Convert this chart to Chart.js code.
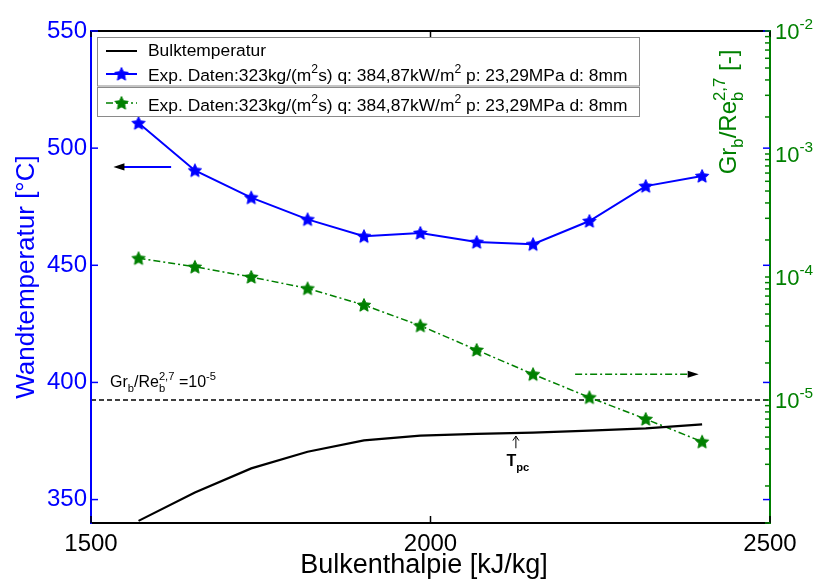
<!DOCTYPE html>
<html>
<head>
<meta charset="utf-8">
<script src="https://cdn.jsdelivr.net/npm/chart.js@4.4.1/dist/chart.umd.min.js"></script>
<style>
html,body{margin:0;padding:0;background:#fff;}
#wrap{width:821px;height:582px;}
</style>
</head>
<body>
<div id="wrap"><canvas id="c" width="821" height="582"></canvas></div>
<script>
// ---- data ----
const enthalpy = [1570, 1653, 1736, 1819, 1902, 1985, 2068, 2151, 2234, 2317, 2400];
const bulkTemp = [340.9, 353.0, 363.3, 370.4, 375.3, 377.3, 378.0, 378.6, 379.4, 380.4, 382.1];
const wallTemp = [510.7, 490.5, 478.9, 469.6, 462.4, 463.8, 459.9, 459.0, 468.9, 483.8, 488.1];
const grRe = [1.42e-4, 1.21e-4, 1.00e-4, 8.07e-5, 5.92e-5, 4.02e-5, 2.55e-5, 1.62e-5, 1.05e-5, 7.0e-6, 4.58e-6];
const refLineX = [1500, 2500];
const refLineY = [1e-5, 1e-5];
const xTicks = [1500, 2000, 2500];
const leftTicks = [350, 400, 450, 500, 550];
const rightDecades = [-5, -4, -3, -2];
const blueArrowX = [1618, 1533];
const blueArrowY = [492, 492];
const greenArrowX = [2213, 2395];
const greenArrowY = [1.62e-5, 1.62e-5];
const tpcX = 2125;
const tpcY = [371.9, 377.1];
const legendLabel = 'Exp. Daten:323kg/(m²s) q: 384,87kW/m² p: 23,29MPa d: 8mm';

const BLUE = '#0000ff', GREEN = '#008000', BLACK = '#000000';
const FONT = '"Liberation Sans", Arial, Helvetica, sans-serif';

function makeStar(color, r) {
  const s = Math.ceil(2 * r + 2);
  const c = document.createElement('canvas');
  c.width = s; c.height = s;
  const g = c.getContext('2d');
  g.translate(s / 2, s / 2 + 0.5);
  g.beginPath();
  for (let i = 0; i < 10; i++) {
    const a = -Math.PI / 2 + i * Math.PI / 5;
    const rr = (i % 2) ? r * 0.47 : r;
    const px = rr * Math.cos(a), py = rr * Math.sin(a);
    if (i === 0) g.moveTo(px, py); else g.lineTo(px, py);
  }
  g.closePath();
  g.fillStyle = color; g.fill();
  g.lineWidth = 1; g.strokeStyle = color; g.stroke();
  return c;
}
const blueStar = makeStar(BLUE, 7);
const greenStar = makeStar(GREEN, 7);

function xy(xs, ys) { return xs.map((x, i) => ({ x: x, y: ys[i] })); }

// rich text: parts = [[text, mode]], mode: '' | 'sub' | 'sup' | 'ss' (text = [sub, sup])
function richWidth(ctx, parts, size, weight) {
  let w = 0;
  for (const [t, m] of parts) {
    if (m === '') { ctx.font = weight + ' ' + size + 'px ' + FONT; w += ctx.measureText(t).width; }
    else if (m === 'ss') { ctx.font = weight + ' ' + (size * 0.7) + 'px ' + FONT; w += Math.max(ctx.measureText(t[0]).width, ctx.measureText(t[1]).width); }
    else { ctx.font = weight + ' ' + (size * 0.7) + 'px ' + FONT; w += ctx.measureText(t).width; }
  }
  return w;
}
function drawRich(ctx, parts, x, y, size, color, weight) {
  weight = weight || 'normal';
  ctx.fillStyle = color;
  ctx.textBaseline = 'alphabetic';
  ctx.textAlign = 'left';
  let cx = x;
  for (const [t, m] of parts) {
    if (m === '') {
      ctx.font = weight + ' ' + size + 'px ' + FONT;
      ctx.fillText(t, cx, y); cx += ctx.measureText(t).width;
    } else if (m === 'sub') {
      ctx.font = weight + ' ' + (size * 0.7) + 'px ' + FONT;
      ctx.fillText(t, cx, y + size * 0.3); cx += ctx.measureText(t).width;
    } else if (m === 'sup') {
      ctx.font = weight + ' ' + (size * 0.7) + 'px ' + FONT;
      ctx.fillText(t, cx, y - size * 0.45); cx += ctx.measureText(t).width;
    } else if (m === 'ss') {
      ctx.font = weight + ' ' + (size * 0.7) + 'px ' + FONT;
      ctx.fillText(t[0], cx, y + size * 0.3);
      ctx.fillText(t[1], cx, y - size * 0.45);
      cx += Math.max(ctx.measureText(t[0]).width, ctx.measureText(t[1]).width);
    }
  }
  return cx - x;
}

function arrowHead(ctx, x, y, dir, len, half) {
  ctx.beginPath();
  ctx.moveTo(x, y);
  ctx.lineTo(x - dir * len, y - half);
  ctx.lineTo(x - dir * len, y + half);
  ctx.closePath();
  ctx.fillStyle = BLACK; ctx.fill();
}

const decor = {
  id: 'decor',
  afterDatasetsDraw(chart) {
    const ctx = chart.ctx;
    const a = chart.chartArea;
    const sx = chart.scales.x, sy = chart.scales.y, sy2 = chart.scales.y2;
    ctx.save();

    // arrows
    const bx0 = sx.getPixelForValue(blueArrowX[0]), bx1 = sx.getPixelForValue(blueArrowX[1]);
    const by = sy.getPixelForValue(blueArrowY[0]);
    ctx.strokeStyle = BLUE; ctx.lineWidth = 2; ctx.setLineDash([]);
    ctx.beginPath(); ctx.moveTo(bx0, by); ctx.lineTo(bx1 + 9, by); ctx.stroke();
    arrowHead(ctx, bx1, by, -1, 11, 3.6);

    const gx0 = sx.getPixelForValue(greenArrowX[0]), gx1 = sx.getPixelForValue(greenArrowX[1]);
    const gy = sy2.getPixelForValue(greenArrowY[0]);
    ctx.strokeStyle = GREEN; ctx.lineWidth = 1.5; ctx.setLineDash([7, 3, 2, 3]);
    ctx.beginPath(); ctx.moveTo(gx0, gy); ctx.lineTo(gx1 - 9, gy); ctx.stroke();
    ctx.setLineDash([]);
    arrowHead(ctx, gx1, gy, 1, 11, 3.6);

    // Tpc arrow
    const tx = sx.getPixelForValue(tpcX);
    const ty0 = sy.getPixelForValue(tpcY[0]), ty1 = sy.getPixelForValue(tpcY[1]);
    ctx.strokeStyle = BLACK; ctx.lineWidth = 1;
    ctx.beginPath(); ctx.moveTo(tx + 0.5, ty0); ctx.lineTo(tx + 0.5, ty1); ctx.stroke();
    ctx.beginPath(); ctx.moveTo(tx - 2.5, ty1 + 4.5); ctx.lineTo(tx + 0.5, ty1); ctx.lineTo(tx + 3.5, ty1 + 4.5); ctx.stroke();
    drawRich(ctx, [['T', ''], ['pc', 'sub']], tx - 9, ty0 + 18, 16, BLACK, 'bold');

    // annotation
    drawRich(ctx, [['Gr', ''], ['b', 'sub'], ['/Re', ''], [['b', '2,7'], 'ss'], [' =10', ''], ['-5', 'sup']], 110, 387, 16, BLACK);

    // axes box
    ctx.setLineDash([]);
    ctx.lineWidth = 2;
    ctx.strokeStyle = BLACK;
    ctx.beginPath(); ctx.moveTo(a.left, a.top); ctx.lineTo(a.right, a.top); ctx.stroke();
    ctx.beginPath(); ctx.moveTo(a.left, a.bottom); ctx.lineTo(a.right, a.bottom); ctx.stroke();
    ctx.strokeStyle = GREEN;
    ctx.beginPath(); ctx.moveTo(a.right, a.top - 1); ctx.lineTo(a.right, a.bottom + 1); ctx.stroke();
    ctx.strokeStyle = BLUE;
    ctx.beginPath(); ctx.moveTo(a.left, a.top - 1); ctx.lineTo(a.left, a.bottom + 1); ctx.stroke();

    // x ticks
    ctx.strokeStyle = BLACK; ctx.lineWidth = 1.5;
    for (const v of xTicks) {
      const px = sx.getPixelForValue(v);
      ctx.beginPath(); ctx.moveTo(px, a.bottom); ctx.lineTo(px, a.bottom - 7); ctx.stroke();
      ctx.beginPath(); ctx.moveTo(px, a.top); ctx.lineTo(px, a.top + 6); ctx.stroke();
    }
    // left ticks (both sides)
    ctx.strokeStyle = BLUE; ctx.lineWidth = 1.5;
    for (const v of leftTicks) {
      const py = sy.getPixelForValue(v);
      ctx.beginPath(); ctx.moveTo(a.left, py); ctx.lineTo(a.left + 7, py); ctx.stroke();
      ctx.beginPath(); ctx.moveTo(a.right, py); ctx.lineTo(a.right - 7, py); ctx.stroke();
    }
    // right log ticks
    ctx.strokeStyle = GREEN; ctx.lineWidth = 1.5;
    for (let d = -6; d <= -2; d++) {
      for (let k = 1; k <= 9; k++) {
        if (d === -2 && k > 1) break;
        const v = k * Math.pow(10, d);
        const py = sy2.getPixelForValue(v);
        ctx.beginPath(); ctx.moveTo(a.right, py); ctx.lineTo(a.right - 5, py); ctx.stroke();
      }
    }
    // right tick labels
    for (const d of rightDecades) {
      const py = sy2.getPixelForValue(Math.pow(10, d));
      drawRich(ctx, [['10', ''], [String(d), 'sup']], a.right + 5, py + 8, 22, GREEN);
    }

    // titles
    ctx.save();
    ctx.translate(34, (a.top + a.bottom) / 2);
    ctx.rotate(-Math.PI / 2);
    ctx.font = '26px ' + FONT; ctx.fillStyle = BLUE; ctx.textAlign = 'center'; ctx.textBaseline = 'alphabetic';
    ctx.fillText('Wandtemperatur [°C]', 0, 0);
    ctx.restore();

    const rParts = [['Gr', ''], ['b', 'sub'], ['/Re', ''], [['b', '2,7'], 'ss'], [' [-]', '']];
    const rw = richWidth(ctx, rParts, 24, 'normal');
    ctx.save();
    ctx.translate(736, 112);
    ctx.rotate(-Math.PI / 2);
    drawRich(ctx, rParts, -rw / 2, 0, 24, GREEN);
    ctx.restore();

    ctx.font = '27px ' + FONT; ctx.fillStyle = BLACK; ctx.textAlign = 'center'; ctx.textBaseline = 'alphabetic';
    ctx.fillText('Bulkenthalpie [kJ/kg]', 424, 573);

    // legend
    ctx.fillStyle = '#ffffff';
    ctx.fillRect(97, 37, 543, 49);
    ctx.fillRect(97, 87, 543, 30);
    ctx.strokeStyle = '#8a8a8a'; ctx.lineWidth = 1;
    ctx.strokeRect(97.5, 37.5, 542, 48.5);
    ctx.strokeRect(97.5, 87.5, 542, 29);
    const lx0 = 106, lx1 = 137, tx0 = 148;
    ctx.strokeStyle = BLACK; ctx.lineWidth = 2;
    ctx.beginPath(); ctx.moveTo(lx0, 51); ctx.lineTo(lx1, 51); ctx.stroke();
    drawRich(ctx, [['Bulktemperatur', '']], tx0, 56, 17.4, BLACK);
    ctx.strokeStyle = BLUE; ctx.lineWidth = 2;
    ctx.beginPath(); ctx.moveTo(lx0, 74); ctx.lineTo(lx1, 74); ctx.stroke();
    ctx.drawImage(blueStar, (lx0 + lx1) / 2 - blueStar.width / 2, 74 - blueStar.height / 2);
    const lp = [['Exp. Daten:323kg/(m', ''], ['2', 'sup'], ['s) q: 384,87kW/m', ''], ['2', 'sup'], [' p: 23,29MPa d: 8mm', '']];
    drawRich(ctx, lp, tx0, 80.5, 17.4, BLACK);
    ctx.strokeStyle = GREEN; ctx.lineWidth = 1.5; ctx.setLineDash([7, 3, 2, 3]);
    ctx.beginPath(); ctx.moveTo(lx0, 103); ctx.lineTo(lx1, 103); ctx.stroke();
    ctx.setLineDash([]);
    ctx.drawImage(greenStar, (lx0 + lx1) / 2 - greenStar.width / 2, 103 - greenStar.height / 2);
    drawRich(ctx, lp, tx0, 110.5, 17.4, BLACK);

    ctx.restore();
  }
};

new Chart(document.getElementById('c'), {
  type: 'line',
  data: {
    datasets: [
      { label: 'Bulktemperatur', data: xy(enthalpy, bulkTemp), yAxisID: 'y', borderColor: BLACK, borderWidth: 2.2, pointRadius: 0, fill: false, tension: 0 },
      { label: legendLabel, data: xy(enthalpy, wallTemp), yAxisID: 'y', borderColor: BLUE, backgroundColor: BLUE, borderWidth: 2, pointStyle: blueStar, pointRadius: 7, fill: false, tension: 0 },
      { label: legendLabel + ' ', data: xy(enthalpy, grRe), yAxisID: 'y2', borderColor: GREEN, backgroundColor: GREEN, borderWidth: 1.5, borderDash: [7, 3, 2, 3], pointStyle: greenStar, pointRadius: 7, fill: false, tension: 0 },
      { label: 'Gr_b/Re_b^2,7 = 1e-5', data: xy(refLineX, refLineY), yAxisID: 'y2', borderColor: BLACK, borderWidth: 1.5, borderDash: [5, 3], pointRadius: 0, fill: false }
    ]
  },
  options: {
    responsive: false,
    animation: false,
    devicePixelRatio: 1,
    layout: { padding: { top: 31, left: 0, right: 0, bottom: 0 } },
    plugins: { legend: { display: false }, tooltip: { enabled: false } },
    scales: {
      x: {
        type: 'linear', min: 1500, max: 2500,
        afterBuildTicks(s) { s.ticks = xTicks.map(v => ({ value: v })); },
        afterFit(s) { s.height = 59; },
        ticks: { color: BLACK, font: { size: 24, family: FONT }, padding: 7, maxRotation: 0, callback: v => String(v) },
        grid: { display: false, drawTicks: false },
        border: { display: false }
      },
      y: {
        type: 'linear', position: 'left', min: 340, max: 550,
        afterBuildTicks(s) { s.ticks = leftTicks.map(v => ({ value: v })); },
        afterFit(s) { s.width = 91; },
        ticks: { color: BLUE, font: { size: 24, family: FONT }, padding: 4, callback: v => String(v) },
        grid: { display: false, drawTicks: false },
        border: { display: false }
      },
      y2: {
        type: 'logarithmic', position: 'right', min: 1e-6, max: 1e-2,
        afterFit(s) { s.width = 51; },
        ticks: { display: false },
        grid: { display: false, drawTicks: false },
        border: { display: false }
      }
    }
  },
  plugins: [decor]
});
</script>
</body>
</html>
